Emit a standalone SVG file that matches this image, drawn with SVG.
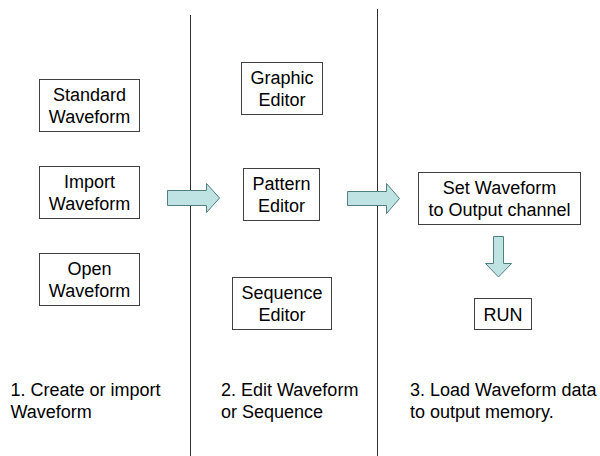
<svg xmlns="http://www.w3.org/2000/svg" width="600" height="456" viewBox="0 0 600 456">
<style>
.box{fill:#ffffff;stroke:#404040;stroke-width:1}
.t{font-family:"Liberation Sans",Arial,sans-serif;font-size:18px;fill:#000;text-anchor:middle}
.c{font-family:"Liberation Sans",Arial,sans-serif;font-size:18px;fill:#000}
.sep{stroke:#303030;stroke-width:1}
.arr{fill:#bfe3e3;stroke:#4f7f80;stroke-width:1}
</style>
<rect width="600" height="456" fill="#ffffff"/>
<g id="separators">
<line class="sep" x1="190.5" y1="15" x2="190.5" y2="456"/>
<line class="sep" x1="377.5" y1="9" x2="377.5" y2="456"/>
</g>
<g id="standard-waveform">
<rect class="box" x="39.5" y="79.5" width="100" height="52"/>
<text class="t" x="89.5" y="101">Standard</text>
<text class="t" x="89.5" y="123">Waveform</text>
</g>
<g id="import-waveform">
<rect class="box" x="39.5" y="166.5" width="100" height="52"/>
<text class="t" x="89.5" y="188">Import</text>
<text class="t" x="89.5" y="210">Waveform</text>
</g>
<g id="open-waveform">
<rect class="box" x="39.5" y="253.5" width="100" height="52"/>
<text class="t" x="89.5" y="275">Open</text>
<text class="t" x="89.5" y="297">Waveform</text>
</g>
<g id="graphic-editor">
<rect class="box" x="241.5" y="62.5" width="81" height="52"/>
<text class="t" x="282" y="84">Graphic</text>
<text class="t" x="282" y="106">Editor</text>
</g>
<g id="pattern-editor">
<rect class="box" x="243.5" y="168.5" width="76" height="52"/>
<text class="t" x="281.5" y="190">Pattern</text>
<text class="t" x="281.5" y="212">Editor</text>
</g>
<g id="sequence-editor">
<rect class="box" x="232.5" y="277.5" width="99" height="52"/>
<text class="t" x="282" y="299">Sequence</text>
<text class="t" x="282" y="321">Editor</text>
</g>
<g id="set-waveform">
<rect class="box" x="418.5" y="172.5" width="162" height="52"/>
<text class="t" x="499.5" y="194">Set Waveform</text>
<text class="t" x="499.5" y="216">to Output channel</text>
</g>
<g id="run">
<rect class="box" x="474.5" y="298.5" width="57" height="31"/>
<text class="t" x="503" y="320.5">RUN</text>
</g>
<g id="connectors">
<polygon class="arr" points="167.5,190.5 206.5,190.5 206.5,183.5 219.5,198 206.5,212.5 206.5,205.5 167.5,205.5"/>
<polygon class="arr" points="347.5,191.5 386.5,191.5 386.5,183.5 399.5,198.5 386.5,213.5 386.5,205.5 347.5,205.5"/>
<polygon class="arr" points="493.5,236.5 503.5,236.5 503.5,263.5 511.5,263.5 498.5,277 485.5,263.5 493.5,263.5"/>
</g>
<g id="captions">
<text class="c" x="10.5" y="396">1. Create or import</text>
<text class="c" x="10.5" y="418">Waveform</text>
<text class="c" x="221" y="396">2. Edit Waveform</text>
<text class="c" x="221" y="418">or Sequence</text>
<text class="c" x="410" y="396">3. Load Waveform data</text>
<text class="c" x="410" y="418">to output memory.</text>
</g>
</svg>
